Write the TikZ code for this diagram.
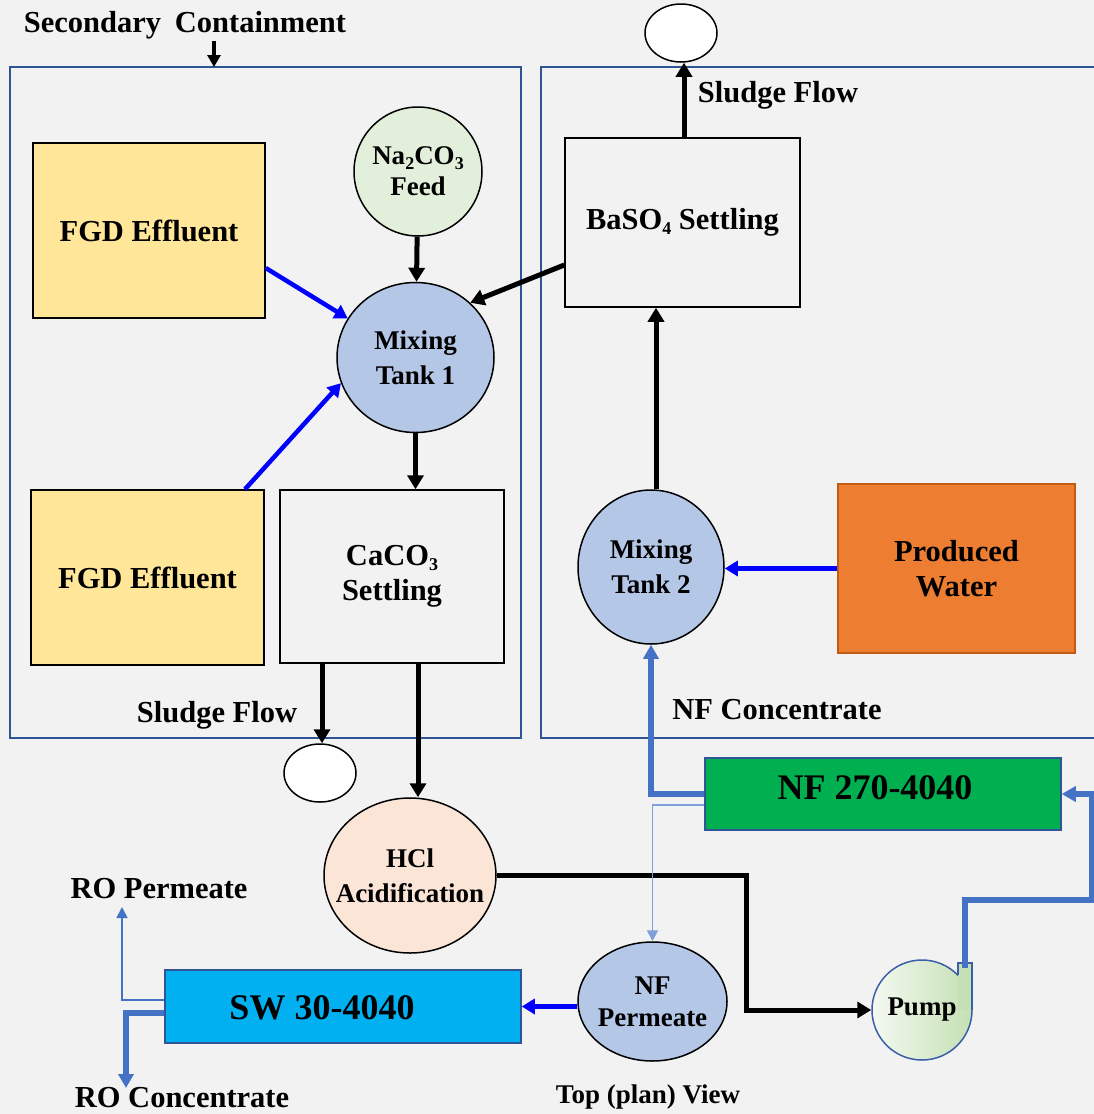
\documentclass[tikz,border=0pt]{standalone}
\usepackage{fontspec}
\setmainfont{Liberation Serif}
\usetikzlibrary{arrows.meta,shapes.geometric,calc}

\definecolor{bgc}{HTML}{F2F2F2}
\definecolor{wall}{HTML}{2F5597}
\definecolor{fgdc}{HTML}{FFE699}
\definecolor{feedc}{HTML}{E2EFDA}
\definecolor{tankc}{HTML}{B4C7E7}
\definecolor{acidc}{HTML}{FBE5D6}
\definecolor{pwc}{HTML}{ED7D31}
\definecolor{pwedge}{HTML}{C55A11}
\definecolor{nfc}{HTML}{00B050}
\definecolor{swc}{HTML}{00B0F0}
\definecolor{pipe}{HTML}{4472C4}
\definecolor{pipethin}{HTML}{7F9FDA}
\definecolor{pureblue}{HTML}{0000FF}
\definecolor{pumpL}{HTML}{F4F9F1}
\definecolor{pumpR}{HTML}{C5E0B4}
\definecolor{pumpedge}{HTML}{3A5FA8}

% chemical-formula subscript
\newcommand{\chsub}[1]{\raisebox{-0.35ex}{\fontsize{18}{18}\selectfont #1}}

\begin{document}
\begin{tikzpicture}[x=1pt,y=-1pt,
  txt/.style={font=\fontsize{30.5}{35}\selectfont\bfseries, align=center, inner sep=0pt},
  ctxt/.style={font=\fontsize{27}{35}\selectfont\bfseries, align=center},
  bigtxt/.style={font=\fontsize{36}{40}\selectfont\bfseries, align=center, inner sep=0pt},
  box/.style={rectangle, draw=black, line width=1.5pt, inner sep=0pt},
  vessel/.style={ellipse, draw=black, line width=1.5pt, inner sep=-22pt},
  blk/.style={line width=5pt, line join=miter, -{Triangle[length=14pt,width=16pt]}},
  feedline/.style={pureblue, line width=4.5pt, -{Triangle[length=13pt,width=15pt]}},
  pipeline/.style={pipe, line width=5.5pt, line join=miter, -{Triangle[length=14pt,width=15pt]}},
  thinpipe/.style={line width=1.8pt, -{Triangle[length=11pt,width=11pt]}},
]
\useasboundingbox[fill=bgc] (0,0) rectangle (1094,1114);

% containment walls
\draw[wall, line width=1.5pt] (10,67) rectangle (521,738);
\draw[wall, line width=1.5pt] (1100,67) -- (541,67) -- (541,738) -- (1100,738);

% process units
\node[box, fill=fgdc, minimum width=232pt, minimum height=175pt, txt] (fgd1) at (149,230.5) {FGD Effluent};
\node[box, fill=fgdc, minimum width=233pt, minimum height=175pt, txt] (fgd2) at (147.5,577.5) {FGD Effluent};
\node[vessel, fill=feedc, minimum width=128pt, minimum height=129pt, ctxt, font=\fontsize{27}{31}\selectfont\bfseries] (na) at (418,171.5) {Na\chsub{2}CO\chsub{3}\\Feed};
\node[vessel, fill=tankc, minimum width=157pt, minimum height=150pt, ctxt] (mt1) at (415.5,357.5) {Mixing\\Tank 1};
\node[box, fill=bgc, minimum width=224pt, minimum height=173pt, txt] (caco3) at (392,576.5) {CaCO\chsub{3}\\Settling};
\node[box, fill=bgc, minimum width=235pt, minimum height=169pt, txt] (baso4) at (682.5,222.5) {BaSO\chsub{4} Settling};
\node[vessel, fill=white, minimum width=72pt, minimum height=58pt, inner sep=0pt] (sl1) at (681,33) {};
\node[vessel, fill=white, minimum width=72pt, minimum height=58pt, inner sep=0pt] (sl2) at (320,773) {};
\node[vessel, fill=tankc, minimum width=146pt, minimum height=154pt, ctxt] (mt2) at (651,567) {Mixing\\Tank 2};
\node[rectangle, draw=pwedge, line width=1.5pt, fill=pwc, minimum width=237pt, minimum height=169pt, txt] (pw) at (956.5,568.5) {Produced\\Water};
\node[rectangle, draw=wall, line width=1.5pt, fill=nfc, minimum width=356pt, minimum height=72pt,
      label={[bigtxt, xshift=-8pt, yshift=6pt]center:NF 270-4040}] (nf) at (883,794) {};
\node[vessel, fill=acidc, minimum width=172pt, minimum height=155pt, ctxt] (hcl) at (410,875.5) {HCl\\Acidification};
\node[vessel, fill=tankc, minimum width=149pt, minimum height=119pt, ctxt, font=\fontsize{27}{32}\selectfont\bfseries] (nfp) at (652.5,1001.5) {NF\\Permeate};
\node[rectangle, draw=wall, line width=1.5pt, fill=swc, minimum width=356pt, minimum height=73pt,
      label={[bigtxt, xshift=-21pt, yshift=-1pt]center:SW 30-4040}] (sw) at (343,1006.5) {};

% pump with discharge nozzle
\node[circle, minimum size=100pt, inner sep=0pt, draw=pumpedge, line width=1.5pt,
      left color=pumpL, right color=pumpR, ctxt] (pump) at (922,1010) {Pump};
\fill[pumpR] (958,963) rectangle (972,1010);
\draw[pumpedge, line width=1.5pt] (958,975.3) -- (958,963) -- (972,963) -- (972,1010);

% labels
\node[txt] (seccont) at (185,25) {Secondary\hspace{0.45em}Containment};
\node[txt] (sludgeA) at (778,95) {Sludge Flow};
\node[txt] (sludgeB) at (217,715) {Sludge Flow};
\node[txt] (nfconc) at (777,710) {NF Concentrate};
\node[txt] (roperm) at (159,889) {RO Permeate};
\node[txt] (roconc) at (182,1098) {RO Concentrate};
\node[ctxt, inner sep=0pt] (topview) at (648,1097) {Top (plan) View};

% free connector ends
\coordinate (contTop) at (214,67);
\coordinate (permTip) at (122,907);
\coordinate (concTip) at (126,1088);
\coordinate (pumpOut) at (965,968);
\coordinate (riseA) at (965,900);
\coordinate (riseB) at (1092,900);

% black process flows
\draw[blk, line width=3.5pt, -{Triangle[length=12pt,width=13pt]}] ([yshift=-2pt]seccont.south -| contTop) -- (contTop);
\draw[blk] (na) -- (mt1);
\draw[blk] ([yshift=-42.5pt]baso4.west) -- (mt1.45);
\draw[blk] (mt1.south) -- (mt1.south |- caco3.north);
\draw[blk] ([xshift=-70pt]caco3.south) -- ([xshift=-70pt]caco3.south |- sl2.north);
\draw[blk] ([xshift=26pt]caco3.south) -- ([xshift=26pt]caco3.south |- hcl.north);
\draw[blk] ([xshift=1.5pt]baso4.north) -- ([xshift=1.5pt]baso4.north |- sl1.south);
\draw[blk] ([xshift=5pt]mt2.north) -- ([xshift=5pt]mt2.north |- baso4.south);
\draw[blk] (hcl.east) -- ++(250,0) |- (pump.west);

% effluent and produced-water feeds
\draw[feedline] ([yshift=-37.5pt]fgd1.east) -- (mt1.150);
\draw[feedline] ([xshift=97.5pt]fgd2.north) -- (mt1.199);
\draw[feedline] (pw.west) -- (pw.west -| mt2.east);
\draw[feedline] (nfp.west |- sw.east) -- (sw.east);

% membrane piping
\draw[pipeline] (nf.west) -- (nf.west -| mt2.south) -- (mt2.south);
\draw[thinpipe, pipethin] ([yshift=-11pt]nf.west) -| (nfp.north);
\draw[pipeline] (pumpOut) -- (riseA) -- (riseB) |- (nf.east);
\draw[thinpipe, pipe] ([yshift=6.5pt]sw.west) -| (permTip);
\draw[pipeline] ([yshift=-6.5pt]sw.west) -| (concTip);
\end{tikzpicture}
\end{document}
